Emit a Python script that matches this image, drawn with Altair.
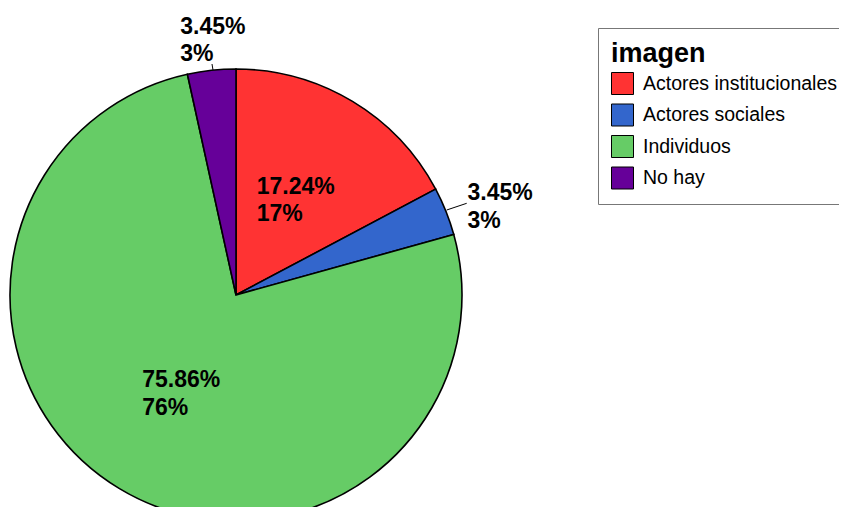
import altair as alt
import pandas as pd

categories = ["Actores institucionales", "Actores sociales", "Individuos", "No hay"]
counts = [5, 1, 22, 1]
colors = ["#ff3333", "#3366cc", "#66cc66", "#660099"]

total = sum(counts)
df = pd.DataFrame({"imagen": categories, "count": counts})
df["label"] = [f"{c / total * 100:.2f}%\n{round(c / total * 100)}%" for c in counts]

CX, CY, R = 228, 287, 226
FONT = "Liberation Sans"

base = alt.Chart(df)

pie = base.mark_arc(stroke="black", strokeWidth=1.6, radius=R).encode(
    theta=alt.Theta("count:Q", stack=True),
    color=alt.Color(
        "imagen:N",
        scale=alt.Scale(domain=categories, range=colors),
        legend=alt.Legend(
            title="imagen",
            orient="none",
            legendX=590,
            legendY=20,
            titleFontSize=27,
            titleFontWeight="bold",
            titleFont=FONT,
            titleColor="black",
            titlePadding=4,
            labelFont=FONT,
            labelFontSize=19.5,
            labelColor="black",
            labelLimit=400,
            labelOffset=9,
            symbolType="square",
            symbolSize=484,
            symbolStrokeColor="black",
            symbolStrokeWidth=1,
            symbolOpacity=1,
            strokeColor="#777777",
            padding=13,
            rowPadding=4.5,
        ),
    ),
    order=alt.Order("imagen:N"),
    x=alt.value(CX),
    y=alt.value(CY),
)

# label placement: (radius, dx, dy)
label_pos = {
    "Actores institucionales": (110, -36, -14),
    "Actores sociales": (240, 8.5, -13),
    "Individuos": (117, -33.5, -15),
    "No hay": (257, -28, -13),
}

layers = [pie]
for cat, (r, dx, dy) in label_pos.items():
    t = (
        base.transform_stack(stack="count", groupby=[], as_=["s0", "s1"])
        .transform_calculate(mid="(datum.s0 + datum.s1) / 2")
        .transform_filter(alt.datum.imagen == cat)
        .mark_text(
            align="left",
            baseline="middle",
            font=FONT,
            fontSize=23,
            fontWeight="bold",
            color="black",
            lineBreak="\n",
            lineHeight=27.5,
            radius=r,
            dx=dx,
            dy=dy,
        )
        .encode(
            theta=alt.Theta("mid:Q", scale=alt.Scale(domain=[0, total])),
            text="label:N",
            x=alt.value(CX),
            y=alt.value(CY),
        )
    )
    layers.append(t)

one = alt.Chart(df.head(1))
leader1 = one.mark_rule(color="black", strokeWidth=1).encode(
    x=alt.value(438.7), y=alt.value(202), x2=alt.value(458.7), y2=alt.value(195.3)
)
leader2 = one.mark_rule(color="black", strokeWidth=1).encode(
    x=alt.value(204), y=alt.value(56), x2=alt.value(205), y2=alt.value(62)
)
layers += [leader1, leader2]

chart = (
    alt.layer(*layers)
    .properties(
        width=831,
        height=499,
        padding=0,
        background="white",
        autosize=alt.AutoSizeParams(type="none"),
    )
    .configure_view(stroke=None)
)

chart.save("out.html", embed_options={"renderer": "svg", "actions": False})
